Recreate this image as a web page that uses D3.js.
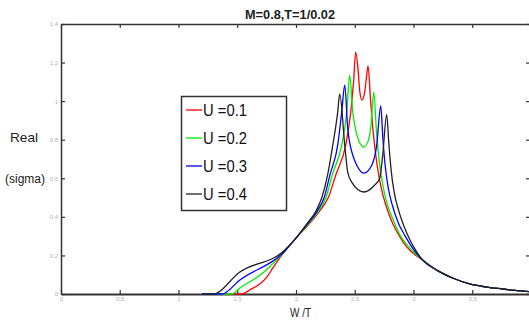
<!DOCTYPE html>
<html><head><meta charset="utf-8">
<script src="https://cdn.jsdelivr.net/npm/d3@7"></script>
<style>html,body{margin:0;padding:0;background:#fff}svg{display:block}</style>
</head><body>
<svg id="c" width="529" height="322"></svg>
<script>
const title = "M=0.8,T=1/0.02";
const xLabel = "W /T";
const yLabel1 = "Real", yLabel2 = "(sigma)";
const seriesNames = ["U =0.1", "U =0.2", "U =0.3", "U =0.4"];
const seriesColors = ["#ff0000", "#00ee00", "#0000ff", "#222222"];
const xTicks = [0, 0.5, 1, 1.5, 2, 2.5, 3, 3.5];
const yTicks = [0, 0.2, 0.4, 0.6, 0.8, 1, 1.2, 1.4];

const tailX = [3.078, 3.197, 3.333, 3.478, 3.622, 3.759, 3.903, 4.0];
const tailY = [0.176, 0.124, 0.083, 0.052, 0.036, 0.026, 0.016, 0.012];

const redX = [1.2, 1.539, 1.607, 1.752, 1.803, 1.905, 2.0, 2.1, 2.2, 2.275, 2.34, 2.423, 2.466, 2.491, 2.508, 2.53, 2.543, 2.562, 2.585, 2.602, 2.613, 2.635, 2.66, 2.69, 2.725, 2.765, 2.82, 2.88, 2.942];
const redY = [0, 0, 0.021, 0.088, 0.135, 0.223, 0.29, 0.355, 0.43, 0.5, 0.62, 0.772, 0.943, 1.109, 1.254, 1.15, 1.049, 1.005, 1.049, 1.135, 1.183, 1.0, 0.82, 0.67, 0.55, 0.46, 0.37, 0.30, 0.244];

const greenX = [1.2, 1.454, 1.522, 1.718, 1.905, 2.0, 2.1, 2.19, 2.255, 2.31, 2.389, 2.432, 2.457, 2.483, 2.5, 2.526, 2.577, 2.612, 2.636, 2.662, 2.685, 2.71, 2.74, 2.775, 2.83, 2.89, 2.96];
const greenY = [0, 0, 0.031, 0.109, 0.223, 0.29, 0.36, 0.43, 0.5, 0.62, 0.772, 0.943, 1.135, 0.943, 0.876, 0.809, 0.762, 0.79, 0.86, 1.047, 0.84, 0.68, 0.56, 0.47, 0.38, 0.30, 0.244];

const blueX = [1.2, 1.369, 1.522, 1.905, 2.0, 2.1, 2.18, 2.24, 2.29, 2.355, 2.389, 2.415, 2.44, 2.483, 2.517, 2.577, 2.645, 2.687, 2.721, 2.74, 2.76, 2.785, 2.82, 2.87, 2.93, 2.985];
const blueY = [0, 0, 0.073, 0.223, 0.29, 0.365, 0.43, 0.5, 0.62, 0.772, 0.943, 1.083, 0.86, 0.72, 0.668, 0.627, 0.668, 0.772, 0.975, 0.80, 0.66, 0.55, 0.46, 0.37, 0.30, 0.244];

const blackX = [1.2, 1.293, 1.522, 1.905, 2.0, 2.1, 2.17, 2.22, 2.27, 2.313, 2.355, 2.372, 2.415, 2.44, 2.474, 2.577, 2.67, 2.713, 2.738, 2.772, 2.79, 2.81, 2.835, 2.87, 2.92, 2.97, 3.01];
const blackY = [0, 0, 0.114, 0.228, 0.29, 0.37, 0.43, 0.5, 0.62, 0.772, 0.943, 1.037, 0.772, 0.632, 0.58, 0.529, 0.565, 0.601, 0.72, 0.93, 0.78, 0.64, 0.53, 0.44, 0.35, 0.28, 0.235];

const seriesX = [redX, greenX, blueX, blackX];
const seriesY = [redY, greenY, blueY, blackY];

const svg = d3.select("#c");
const L = 61, R = 531, T = 24, B = 294;
const x = d3.scaleLinear().domain([0, 4]).range([L, R]);
const y = d3.scaleLinear().domain([0, 1.4]).range([B, T]);

const axisColor = "#333";
const tickFont = "Liberation Sans, Arial, sans-serif";

function styleAxis(g, showLabels) {
  g.select(".domain").attr("stroke", axisColor).attr("stroke-width", 1.5);
  g.selectAll(".tick line").attr("stroke", axisColor).attr("stroke-width", 1.2);
  g.selectAll(".tick text").attr("fill", "#b0b0b0").attr("font-size", 6).attr("font-family", tickFont);
  if (!showLabels) g.selectAll(".tick text").remove();
}

svg.append("g").attr("transform", `translate(0,${T})`)
  .call(d3.axisTop(x).tickValues(xTicks).tickSize(-4).tickSizeOuter(0).tickFormat(""))
  .call(g => styleAxis(g, false));
svg.append("g").attr("transform", `translate(${R - 1},0)`)
  .call(d3.axisRight(y).tickValues(yTicks).tickSize(-4).tickSizeOuter(0).tickFormat(""))
  .call(g => styleAxis(g, false));
svg.append("g").attr("transform", `translate(${L},0)`)
  .call(d3.axisLeft(y).tickValues(yTicks).tickSize(-4).tickSizeOuter(0).tickPadding(3).tickFormat(d3.format("~g")))
  .call(g => styleAxis(g, true));
svg.append("g").attr("transform", `translate(0,${B})`)
  .call(d3.axisBottom(x).tickValues(xTicks).tickSize(-4).tickSizeOuter(0).tickPadding(3).tickFormat(d3.format("~g")))
  .call(g => { styleAxis(g, true); g.select(".domain").attr("stroke-width", 2); });

const line = d3.line().x(d => x(d[0])).y(d => y(d[1])).curve(d3.curveMonotoneX);
seriesX.forEach((xs, i) => {
  const pts = xs.map((v, j) => [v, seriesY[i][j]]).concat(tailX.map((v, j) => [v, tailY[j]]));
  svg.append("path").datum(pts).attr("d", line)
    .attr("fill", "none").attr("stroke", seriesColors[i]).attr("stroke-width", 1.3);
});

// title & labels
const f = "Liberation Sans, Arial, sans-serif";
svg.append("text").attr("x", 245).attr("y", 19).attr("font-family", f).attr("font-size", 13)
  .attr("font-weight", "bold").attr("fill", "#222").attr("textLength", 90).attr("lengthAdjust", "spacingAndGlyphs").text(title);
svg.append("text").attr("x", 290).attr("y", 317).attr("font-family", f).attr("font-size", 13)
  .attr("fill", "#222").attr("textLength", 21).attr("lengthAdjust", "spacingAndGlyphs").text(xLabel);
svg.append("text").attr("x", 10).attr("y", 142).attr("font-family", f).attr("font-size", 13)
  .attr("fill", "#222").attr("textLength", 28).attr("lengthAdjust", "spacingAndGlyphs").text(yLabel1);
svg.append("text").attr("x", 5).attr("y", 183).attr("font-family", f).attr("font-size", 12)
  .attr("fill", "#222").text(yLabel2);

// legend
const lg = svg.append("g");
lg.append("rect").attr("x", 181.5).attr("y", 96.5).attr("width", 105).attr("height", 114)
  .attr("fill", "#fff").attr("stroke", "#333").attr("stroke-width", 1.5);
seriesNames.forEach((n, i) => {
  const ly = 110 + i * 28;
  lg.append("line").attr("x1", 186).attr("x2", 202).attr("y1", ly).attr("y2", ly)
    .attr("stroke", seriesColors[i]).attr("stroke-width", 1.3);
  lg.append("text").attr("x", 203).attr("y", ly + 6).attr("font-family", f).attr("font-size", 17)
    .attr("fill", "#111").attr("textLength", 44).attr("lengthAdjust", "spacingAndGlyphs").text(n);
});
</script>
</body></html>
